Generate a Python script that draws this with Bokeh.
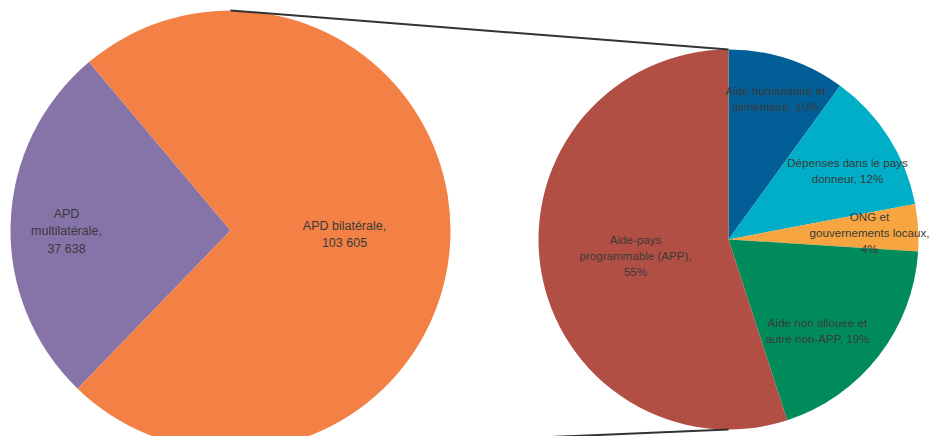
import numpy as np
from bokeh.plotting import figure
from bokeh.models import Range1d, ColumnDataSource
from bokeh.core.properties import value
from bokeh.embed import file_html
from bokeh.resources import INLINE

# ---- data ----
left_names = ["APD multilatérale", "APD bilatérale"]
left_values = [37638, 103605]
left_labels = ["APD\nmultilatérale,\n37 638", "APD bilatérale,\n103 605"]

right_names = ["Aide humanitaire et alimentaire", "Dépenses dans le pays donneur",
               "ONG et gouvernements locaux", "Aide non allouée et autre non-APP",
               "Aide-pays programmable (APP)"]
right_pct = [10, 12, 4, 19, 55]
right_labels = ["Aide humanitaire et\nalimentaire, 10%",
                "Dépenses dans le pays\ndonneur, 12%",
                "ONG et\ngouvernements locaux,\n4%",
                "Aide non allouée et\nautre non-APP, 19%",
                "Aide-pays\nprogrammable (APP),\n55%"]

# ---- style / layout ----
left_colors = ["#8673A8", "#F38145"]
right_colors = ["#025E96", "#00AEC7", "#F7A540", "#008C5A", "#B24F45"]
TXT = "#3A3A3A"
FONT = "Liberation Sans"

W, H = 935, 436
# data units == pixels from the figure's bottom-left; y up
LC = (230, H - 230); LR = 220
RC = (728, H - 239); RR = 190
LEFT_MID = 178.0
left_lab_off = [(-164, -1), (114, -4)]
right_lab_off = [(47, 141), (119, 69), (141, 7), (89, -91), (-93, -16)]

p = figure(width=W, height=H, output_backend="svg", toolbar_location=None,
           x_range=Range1d(0, W), y_range=Range1d(0, H),
           min_border=0, outline_line_color=None)
p.axis.visible = False
p.grid.visible = False
p.background_fill_color = "white"
p.border_fill_color = "white"

# left pie: multilateral centered on the left, bilateral split toward the right
lv = np.array(left_values, dtype=float)
lang = lv / lv.sum() * 360.0
l_start = [LEFT_MID - lang[0] / 2, LEFT_MID + lang[0] / 2]
l_end = [LEFT_MID + lang[0] / 2, LEFT_MID - lang[0] / 2 + 360]
lsrc = ColumnDataSource(dict(s=l_start, e=l_end, c=left_colors, n=left_names))
p.wedge(x=LC[0], y=LC[1], radius=LR, start_angle="s", end_angle="e",
        start_angle_units="deg", end_angle_units="deg",
        fill_color="c", line_color=None, source=lsrc)

# right pie: clockwise from 12 o'clock
rv = np.array(right_pct, dtype=float)
cum = np.concatenate([[0], np.cumsum(rv)]) / rv.sum() * 360.0
r_start = list(90 - cum[:-1])
r_end = list(90 - cum[1:])
rsrc = ColumnDataSource(dict(s=r_start, e=r_end, c=right_colors, n=right_names))
p.wedge(x=RC[0], y=RC[1], radius=RR, start_angle="s", end_angle="e",
        start_angle_units="deg", end_angle_units="deg", direction="clock",
        fill_color="c", line_color=None, source=rsrc)

# connector lines (top to top, bottom to bottom)
p.line([LC[0], RC[0]], [LC[1] + LR, RC[1] + RR], line_color="#333333", line_width=2)
p.line([LC[0], RC[0]], [LC[1] - LR, RC[1] - RR], line_color="#333333", line_width=2)

# labels
lx = [LC[0] + o[0] for o in left_lab_off]
ly = [LC[1] + o[1] for o in left_lab_off]
p.text(x=lx, y=ly, text=left_labels, text_align="center", text_baseline="middle",
       text_font=value(FONT), text_font_size="12.5px", text_color=TXT, text_line_height=1.28)
rx = [RC[0] + o[0] for o in right_lab_off]
ry = [RC[1] + o[1] for o in right_lab_off]
p.text(x=rx, y=ry, text=right_labels, text_align="center", text_baseline="middle",
       text_font=value(FONT), text_font_size="11.6px", text_color=TXT, text_line_height=1.25)

open("out.html", "w").write(file_html(p, INLINE))
